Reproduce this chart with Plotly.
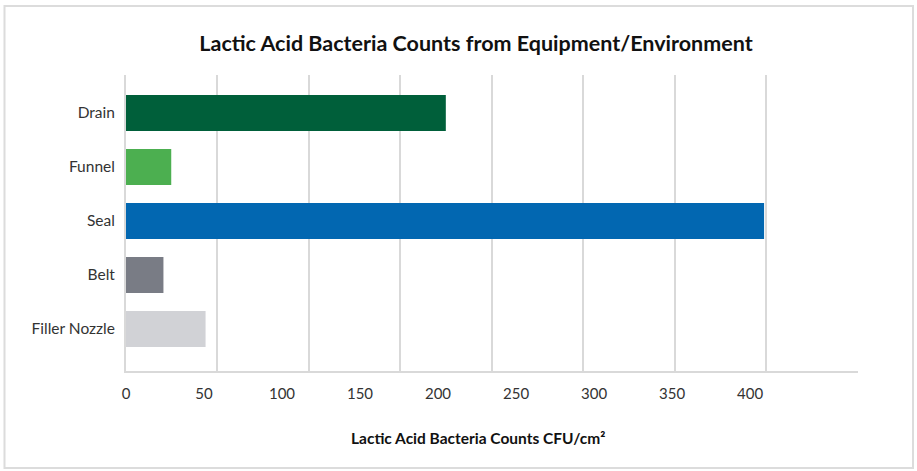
import plotly.graph_objects as go

# Sampling sites (top to bottom as drawn) and their counts
sites = ["Drain", "Funnel", "Seal", "Belt", "Filler Nozzle"]
counts = [205, 29, 409, 24, 51]
colors = ["#005f3a", "#4caf50", "#0267b1", "#797c85", "#d1d2d6"]

tick_values = [0, 50, 100, 150, 200, 250, 300, 350, 400]
tick_labels = ["0", "50", "100", "150", "200", "250", "300", "350", "400"]

title_text = "Lactic Acid Bacteria Counts from Equipment/Environment"
x_title = "Lactic Acid Bacteria Counts CFU/cm²"

W, H = 917, 471
L, R, T, B = 126, 59, 75, 100
pw, ph = W - L - R, H - T - B

fig = go.Figure()
fig.add_trace(go.Bar(
    x=counts,
    y=sites,
    orientation="h",
    marker=dict(color=colors, line=dict(width=0)),
    hoverinfo="x+y",
    showlegend=False,
))
# empty helper trace so the grid axis is created
fig.add_trace(go.Scatter(x=[0], y=[sites[0]], xaxis="x2", mode="none",
                         hoverinfo="skip", showlegend=False))

order = list(reversed(sites))
n = len(order)

fig.update_layout(
    width=W, height=H,
    margin=dict(l=L, r=R, t=T, b=B, pad=0),
    paper_bgcolor="white",
    plot_bgcolor="white",
    bargap=1/3,
    font=dict(family="Lato, 'Noto Sans', sans-serif", color="#333333", size=15),
    title=dict(text=f"<b>{title_text}</b>", x=476 / W, xanchor="center",
               xref="container", y=1 - 43 / H, yanchor="middle", yref="container",
               font=dict(family="Lato, sans-serif", size=21.5, color="#111111",
                         weight=900)),
    xaxis=dict(
        range=[0, 469.2],
        tickmode="array", tickvals=tick_values, ticktext=tick_labels,
        showgrid=False, zeroline=False,
        showline=True, linecolor="#d9d9d9", linewidth=2,
        ticks="", ticklabelstandoff=8,
        tickfont=dict(size=15, color="#333333"),
        fixedrange=True,
    ),
    xaxis2=dict(
        overlaying="x", anchor="y", side="bottom",
        range=[0, 8.002], tick0=0, dtick=1,
        showgrid=True, gridcolor="#d9d9d9", gridwidth=2,
        showticklabels=False, ticks="", zeroline=False, showline=False,
        fixedrange=True,
    ),
    yaxis=dict(
        type="category", categoryorder="array", categoryarray=order,
        range=[-0.778, n - 1 + 0.704],
        showgrid=False, zeroline=False,
        showline=True, linecolor="#d9d9d9", linewidth=2,
        ticks="", ticklabelstandoff=6,
        tickfont=dict(size=15.5, color="#333333"),
        fixedrange=True,
    ),
    annotations=[dict(
        text=f"<b>{x_title}</b>", xref="paper", yref="paper",
        x=(478 - L) / pw, y=-(438 - (T + ph)) / ph,
        xanchor="center", yanchor="middle", showarrow=False,
        font=dict(family="Lato, sans-serif", size=15.5, color="#111111",
                  weight=900),
    )],
    shapes=[dict(
        type="rect", xref="paper", yref="paper",
        x0=(4.5 - L) / pw, x1=(913 - L) / pw,
        y0=-(468 - (T + ph)) / ph, y1=(T + ph - 6) / ph,
        line=dict(color="#dcdcdc", width=2), fillcolor="rgba(0,0,0,0)",
        layer="below",
    )],
)

fig.write_html("out.html")
